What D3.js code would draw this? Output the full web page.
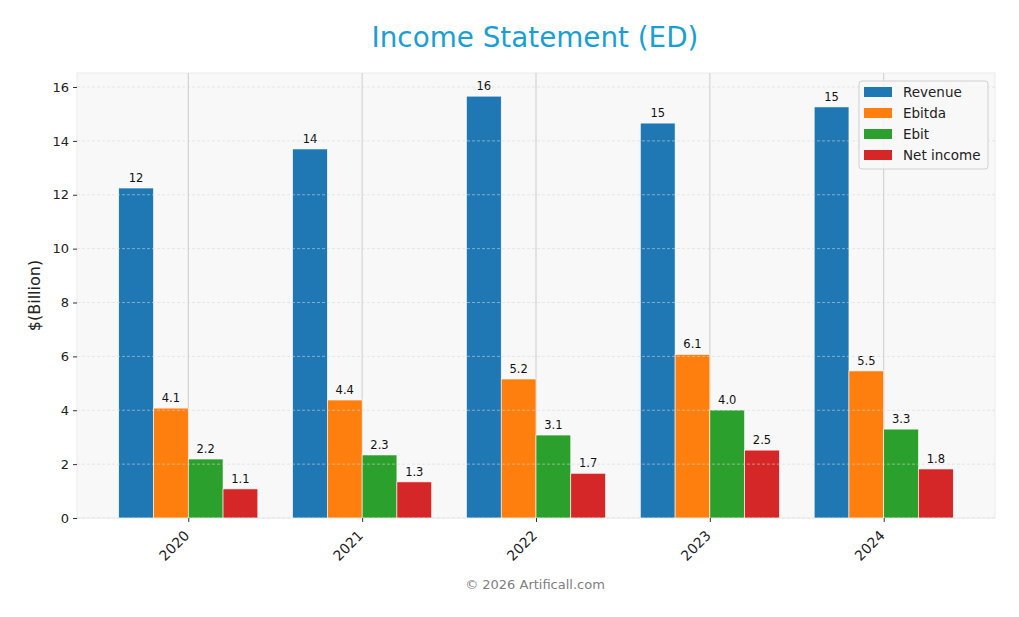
<!DOCTYPE html>
<html>
<head>
<meta charset="utf-8">
<script src="https://cdn.jsdelivr.net/npm/d3@7"></script>
<style>
  body { margin: 0; background: #fff; }
  text { font-family: "DejaVu Sans", sans-serif; }
</style>
</head>
<body>
<script>
// chart size
var w = 1019, h = 617;
var margin = {top: 73, right: 24, bottom: 99, left: 77};

// data ($ billion)
var years = ["2020", "2021", "2022", "2023", "2024"];
var seriesNames = ["Revenue", "Ebitda", "Ebit", "Net income"];
var revenue = [12.25, 13.70, 15.66, 14.66, 15.26];
var ebitda = [4.08, 4.38, 5.16, 6.07, 5.46];
var ebit = [2.19, 2.34, 3.08, 4.01, 3.30];
var netIncome = [1.08, 1.34, 1.66, 2.52, 1.82];
var yTicks = [0, 2, 4, 6, 8, 10, 12, 14, 16];

var colors = ["#1f77b4", "#ff7f0e", "#2ca02c", "#d62728"];
var allSeries = [revenue, ebitda, ebit, netIncome];

var svg = d3.select("body")
    .append("svg")
    .attr("width", w)
    .attr("height", h);

var pw = w - margin.left - margin.right,
    ph = h - margin.top - margin.bottom;

var plot = svg.append("g")
    .attr("transform", "translate(" + margin.left + "," + margin.top + ")");

// x as a continuous index scale, like matplotlib's bar positions
var x = d3.scaleLinear()
    .domain([-0.64, years.length - 1 + 0.64])
    .range([0, pw]);

var y = d3.scaleLinear()
    .domain([0, 16.52])
    .range([ph, 0]);

var barW = 0.2; // in index units

// plot background
plot.append("rect")
    .attr("width", pw)
    .attr("height", ph)
    .attr("fill", "#f8f8f8")
    .attr("stroke", "#ececec");

// vertical grid at the category ticks
plot.selectAll(".vgrid")
    .data(years)
    .enter()
    .append("line")
    .attr("class", "vgrid")
    .attr("x1", function(d, i){ return x(i); })
    .attr("x2", function(d, i){ return x(i); })
    .attr("y1", 0)
    .attr("y2", ph)
    .attr("stroke", "#cccccc")
    .attr("stroke-width", 1);

// bars
var groups = plot.selectAll(".series")
    .data(allSeries)
    .enter()
    .append("g")
    .attr("class", "series")
    .attr("fill", function(d, k){ return colors[k]; });

groups.selectAll("rect")
    .data(function(d, k){
        return d.map(function(v, i){ return {v: v, i: i, k: k}; });
    })
    .enter()
    .append("rect")
    .attr("x", function(d){ return x(d.i + (d.k - 2) * barW); })
    .attr("width", x(barW) - x(0))
    .attr("y", function(d){ return y(d.v); })
    .attr("height", function(d){ return y(0) - y(d.v); })
    .attr("stroke", "#ffffff")
    .attr("stroke-width", 0.6);

// horizontal dashed grid drawn over the bars
plot.selectAll(".hgrid")
    .data(yTicks)
    .enter()
    .append("line")
    .attr("class", "hgrid")
    .attr("x1", 0)
    .attr("x2", pw)
    .attr("y1", function(d){ return y(d); })
    .attr("y2", function(d){ return y(d); })
    .attr("stroke", "#d8d8d8")
    .attr("stroke-opacity", 0.7)
    .attr("stroke-dasharray", "3,2")
    .attr("stroke-width", 0.8);

// value labels
groups.selectAll(".val")
    .data(function(d, k){
        return d.map(function(v, i){ return {v: v, i: i, k: k}; });
    })
    .enter()
    .append("text")
    .attr("class", "val")
    .attr("x", function(d){ return x(d.i + (d.k - 1.5) * barW); })
    .attr("y", function(d){ return y(d.v) - 6; })
    .attr("text-anchor", "middle")
    .attr("font-size", 11.5)
    .attr("fill", "#111")
    .text(function(d){
        return d.v >= 10 ? d3.format(".0f")(d.v) : d3.format(".1f")(d.v);
    });

// y axis
var yAxis = plot.append("g")
    .call(d3.axisLeft(y).tickValues(yTicks).tickSize(4).tickPadding(4));
yAxis.select(".domain").remove();
yAxis.selectAll("text").attr("font-size", 13).attr("fill", "#222")
    .style("font-family", "DejaVu Sans");
yAxis.selectAll("line").attr("stroke", "#333");

// x axis
var xAxis = plot.append("g")
    .attr("transform", "translate(0," + ph + ")")
    .call(d3.axisBottom(x)
        .tickValues(d3.range(years.length))
        .tickFormat(function(i){ return years[i]; })
        .tickSize(4));
xAxis.select(".domain").remove();
xAxis.selectAll("line").attr("stroke", "#333");
xAxis.selectAll("text")
    .attr("font-size", 14)
    .attr("fill", "#222")
    .style("font-family", "DejaVu Sans")
    .attr("text-anchor", "end")
    .attr("x", 0)
    .attr("y", 0)
    .attr("dy", "0.35em")
    .attr("transform", "translate(-2,15) rotate(-45)");

// y label
svg.append("text")
    .attr("transform", "translate(40," + (margin.top + ph / 2) + ") rotate(-90)")
    .attr("text-anchor", "middle")
    .attr("font-size", 16)
    .attr("fill", "#222")
    .text("$(Billion)");

// title
svg.append("text")
    .attr("x", 535)
    .attr("y", 47)
    .attr("text-anchor", "middle")
    .attr("font-size", 27.8)
    .attr("fill", "#1a9fd4")
    .text("Income Statement (ED)");

// footer
svg.append("text")
    .attr("x", 535)
    .attr("y", 589)
    .attr("text-anchor", "middle")
    .attr("font-size", 13)
    .attr("fill", "#808080")
    .text("\u00a9 2026 Artificall.com");

// legend
var legend = svg.append("g")
    .attr("transform", "translate(859,81)");
legend.append("rect")
    .attr("width", 129)
    .attr("height", 88)
    .attr("rx", 3)
    .attr("fill", "#f8f8f8")
    .attr("fill-opacity", 0.85)
    .attr("stroke", "#d0d0d0");
var items = legend.selectAll(".item")
    .data(seriesNames)
    .enter()
    .append("g")
    .attr("class", "item")
    .attr("transform", function(d, i){ return "translate(5," + (6 + i * 21) + ")"; });
items.append("rect")
    .attr("width", 28)
    .attr("height", 10)
    .attr("fill", function(d, i){ return colors[i]; });
items.append("text")
    .attr("x", 39)
    .attr("y", 10)
    .attr("font-size", 13.5)
    .attr("fill", "#222")
    .text(function(d){ return d; });
</script>
</body>
</html>
